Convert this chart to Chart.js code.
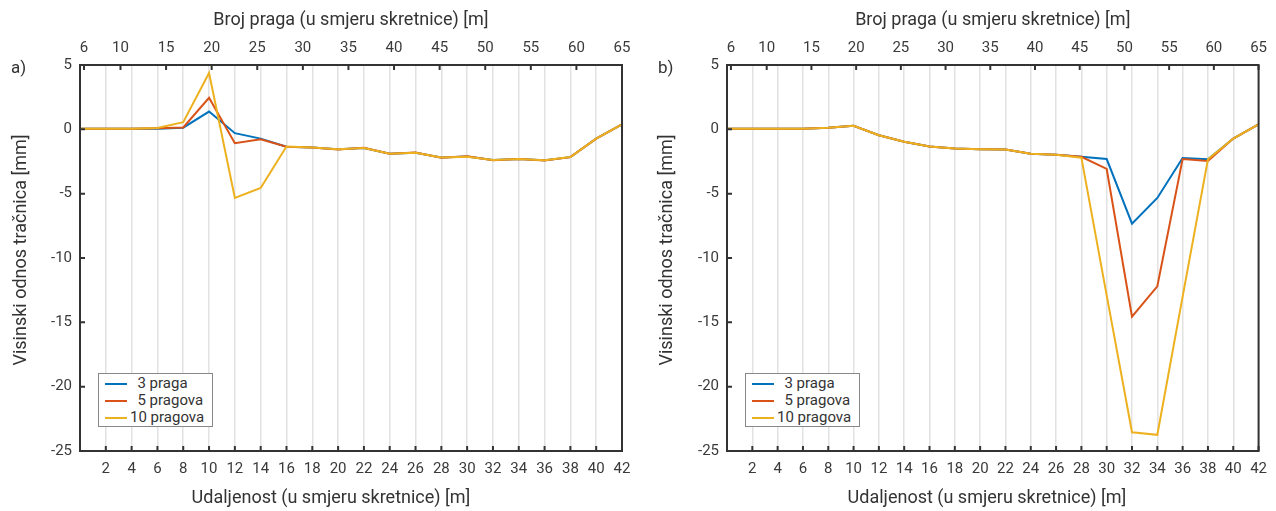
<!DOCTYPE html>
<html>
<head>
<meta charset="utf-8">
<script src="https://cdn.jsdelivr.net/npm/chart.js@4/dist/chart.umd.min.js"></script>
<style>
  body { margin: 0; background: #fff; font-family: Roboto, sans-serif; }
  #wrap { position: relative; width: 1276px; height: 511px; }
  canvas { position: absolute; top: 0; }
  .tag { position: absolute; font-size: 17px; color: #333; }
  .ttl { position: absolute; font-size: 18px; color: #333; white-space: nowrap; line-height: 1; }
  .legend { position: absolute; top: 373px; width: 115px; height: 54px; border: 1px solid #888; background: #fff; box-sizing: border-box; padding-top: 1px; }
  .legend div { height: 17px; line-height: 17px; font-size: 15px; color: #333; white-space: pre; display: flex; align-items: center; }
  .legend span.ln { display: inline-block; width: 22px; height: 2px; margin: 0 3px 0 6px; }
</style>
</head>
<body>
<div id="wrap">
  <canvas id="chartA" width="640" height="511" style="left:0"></canvas>
  <canvas id="chartB" width="636" height="511" style="left:640px"></canvas>
  <div class="tag" style="left:11px; top:57px">a)</div>
  <div class="tag" style="left:658px; top:57px">b)</div>
  <div class="ttl" id="xTitleA" style="left:331px; top:497px"></div>
  <div class="ttl" id="xTitleB" style="left:987px; top:497px"></div>
  <div class="ttl" id="yTitleA" style="left:20px; top:250px"></div>
  <div class="ttl" id="yTitleB" style="left:666px; top:250px"></div>
  <div class="legend" id="legA" style="left:98px"></div>
  <div class="legend" id="legB" style="left:745px"></div>
</div>
<script>
/* ---- data ---- */
const distance = [0, 2, 4, 6, 8, 10, 12, 14, 16, 18, 20, 22, 24, 26, 28, 30, 32, 34, 36, 38, 40, 42];
const bottomTicks = [2, 4, 6, 8, 10, 12, 14, 16, 18, 20, 22, 24, 26, 28, 30, 32, 34, 36, 38, 40, 42];
const topTicks = [6, 10, 15, 20, 25, 30, 35, 40, 45, 50, 55, 60, 65];
const legendLabels = ['  3 praga', '  5 pragova', '10 pragova'];
const COLORS = ['#0072BD', '#D95319', '#EDB120'];
const X_TITLE = 'Udaljenost (u smjeru skretnice) [m]';
const TOP_TITLE = 'Broj praga (u smjeru skretnice) [m]';
const Y_TITLE = 'Visinski odnos tračnica [mm]';

// a) lijevi graf
const a3 = [0.05, 0.05, 0.05, 0.05, 0.13, 1.38, -0.3, -0.72, -1.35, -1.42, -1.54, -1.45, -1.9, -1.82, -2.18, -2.12, -2.38, -2.31, -2.41, -2.16, -0.72, 0.38];
const a5 = [0.05, 0.05, 0.05, 0.08, 0.15, 2.45, -1.08, -0.77, -1.35, -1.42, -1.56, -1.44, -1.9, -1.8, -2.2, -2.1, -2.4, -2.3, -2.42, -2.16, -0.72, 0.38];
const a10 = [0.05, 0.05, 0.05, 0.1, 0.56, 4.38, -5.33, -4.56, -1.33, -1.41, -1.54, -1.45, -1.9, -1.82, -2.18, -2.13, -2.38, -2.31, -2.41, -2.15, -0.72, 0.38];

// b) desni graf
const b3 = [0.05, 0.05, 0.05, 0.05, 0.13, 0.28, -0.46, -0.97, -1.33, -1.49, -1.54, -1.56, -1.9, -1.97, -2.13, -2.31, -7.33, -5.33, -2.23, -2.33, -0.72, 0.38];
const b5 = [0.05, 0.05, 0.05, 0.05, 0.13, 0.28, -0.46, -0.97, -1.33, -1.49, -1.54, -1.56, -1.9, -1.97, -2.13, -3.08, -14.56, -12.2, -2.31, -2.46, -0.72, 0.38];
const b10 = [0.05, 0.05, 0.05, 0.05, 0.13, 0.28, -0.46, -0.97, -1.33, -1.49, -1.54, -1.56, -1.9, -1.97, -2.2, -12.9, -23.54, -23.74, -13.0, -2.33, -0.72, 0.38];

const FONT = 'Roboto, sans-serif';
const TEXT = '#3a3a3a';

/* ── frame + inward tick marks ── */
const frameTicks = {
    id: 'frameTicks',
    afterDatasetsDraw(chart) {
        const { ctx, chartArea: a, scales } = chart;
        ctx.save();
        ctx.strokeStyle = '#333';
        ctx.lineWidth = 2;
        ctx.beginPath();
        scales.x.ticks.forEach(t => {
            const px = scales.x.getPixelForValue(t.value);
            ctx.moveTo(px, a.bottom); ctx.lineTo(px, a.bottom - 5);
        });
        scales.xTop.ticks.forEach(t => {
            const px = scales.xTop.getPixelForValue(t.value);
            ctx.moveTo(px, a.top); ctx.lineTo(px, a.top + 5);
        });
        scales.y.ticks.forEach(t => {
            const py = scales.y.getPixelForValue(t.value);
            ctx.moveTo(a.left, py); ctx.lineTo(a.left + 5, py);
        });
        ctx.stroke();
        ctx.strokeRect(a.left, a.top, a.right - a.left, a.bottom - a.top);
        ctx.restore();
    }
};

function buildChart(id, series, yWidth, padRight) {
    const datasets = series.map((s, i) => ({
        label: legendLabels[i].trim(),
        data: distance.map((x, k) => ({ x, y: s[k] })),
        borderColor: COLORS[i],
        borderWidth: 2,
        pointRadius: 0,
        tension: 0,
        order: 3 - i
    }));
    return new Chart(document.getElementById(id), {
        type: 'line',
        data: { datasets },
        options: {
            responsive: false,
            animation: false,
            layout: { padding: { left: 0, right: padRight, top: 0, bottom: 0 } },
            plugins: { legend: { display: false }, tooltip: { enabled: false } },
            scales: {
                x: {
                    type: 'linear', position: 'bottom', min: 0, max: 42,
                    afterBuildTicks: s => { s.ticks = bottomTicks.map(v => ({ value: v })); },
                    afterFit: s => { s.height = 60; },
                    grid: { color: '#e2e2e2', lineWidth: 1.5, drawTicks: false },
                    border: { display: false },
                    ticks: { autoSkip: false, maxRotation: 0, padding: 9, color: TEXT, font: { family: FONT, size: 15 } }
                },
                xTop: {
                    type: 'linear', position: 'top', min: 5.56, max: 65,
                    afterBuildTicks: s => { s.ticks = topTicks.map(v => ({ value: v })); },
                    afterFit: s => { s.height = 65; },
                    grid: { display: false, drawTicks: false },
                    border: { display: false },
                    ticks: { autoSkip: false, maxRotation: 0, padding: 8, color: TEXT, font: { family: FONT, size: 15 } },
                    title: { display: true, text: TOP_TITLE, color: '#333', font: { family: FONT, size: 18 }, padding: { top: 10, bottom: 0 } }
                },
                y: {
                    min: -25, max: 5,
                    ticks: { stepSize: 5, padding: 8, color: TEXT, font: { family: FONT, size: 15 } },
                    afterFit: s => { s.width = yWidth; },
                    grid: { display: false, drawTicks: false },
                    border: { display: false }
                }
            }
        },
        plugins: [frameTicks]
    });
}

function buildLegend(id) {
    const el = document.getElementById(id);
    el.innerHTML = legendLabels.map((l, i) =>
        `<div><span class="ln" style="background:${COLORS[i]}"></span>${l}</div>`).join('');
}

function placeTitle(id, text, rotate) {
    const el = document.getElementById(id);
    el.textContent = text;
    el.style.transform = 'translate(-50%,-50%)' + (rotate ? ' rotate(-90deg)' : '');
}

buildChart('chartA', [a3, a5, a10], 80, 18);
buildChart('chartB', [b3, b5, b10], 87, 10);
buildLegend('legA');
buildLegend('legB');
placeTitle('xTitleA', X_TITLE, false);
placeTitle('xTitleB', X_TITLE, false);
placeTitle('yTitleA', Y_TITLE, true);
placeTitle('yTitleB', Y_TITLE, true);
</script>
</body>
</html>
